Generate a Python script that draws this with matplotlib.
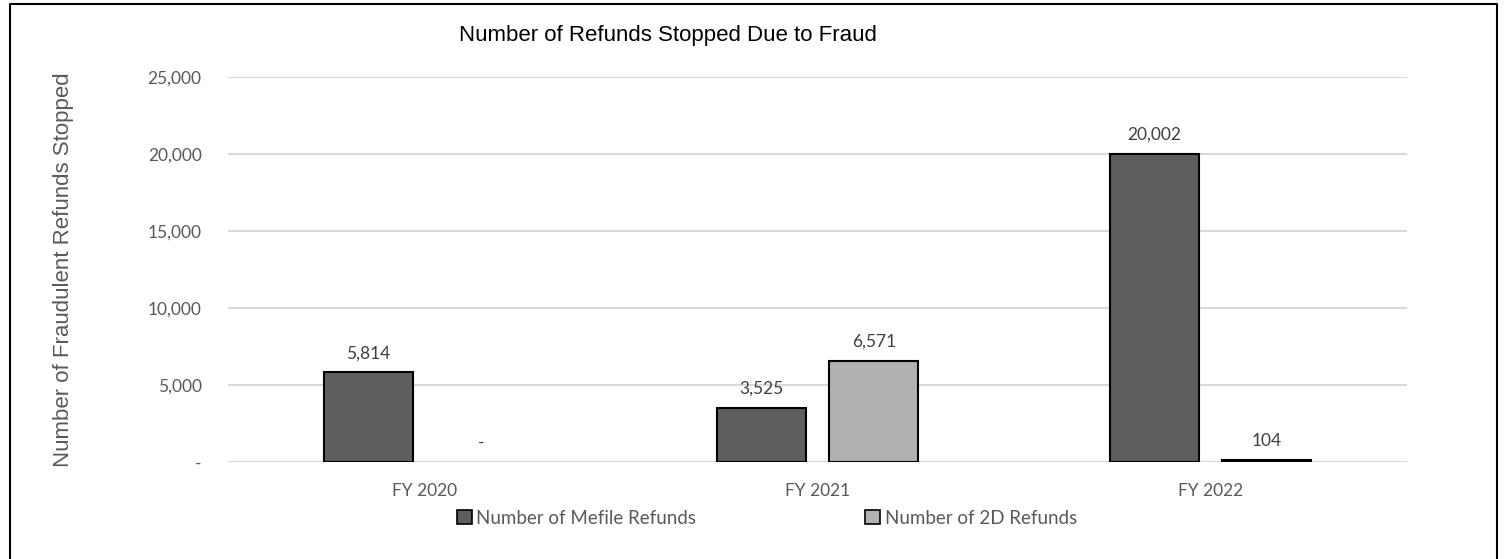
import matplotlib.pyplot as plt
from matplotlib.patches import Patch
from matplotlib.lines import Line2D
from matplotlib.ticker import FuncFormatter
import numpy as np

years = ["FY 2020", "FY 2021", "FY 2022"]
mefile_refunds = [5814, 3525, 20002]
refunds_2d = [0, 6571, 104]

DARK = "#5e5e5e"
LIGHT = "#b1b1b1"
GRID = "#d9d9d9"
TEXT = "#595959"
LABEL_FONT = ["Lato", "DejaVu Sans"]
TITLE_FONT = ["Liberation Sans", "DejaVu Sans"]


def fmt_num(v):
    return "-" if v == 0 else f"{v:,.0f}"


fig = plt.figure(figsize=(15.06, 5.59), dpi=100)
ax = fig.add_axes([0.1514, 0.1735, 0.7829, 0.6887])

x = np.arange(len(years))
offset = 0.143
width = 0.226
bars1 = ax.bar(x - offset, mefile_refunds, width, color=DARK, edgecolor="black", linewidth=1.5, zorder=3)
bars2 = ax.bar(x + offset, refunds_2d, width, color=LIGHT, edgecolor="black", linewidth=1.5, zorder=3)

for bars, vals in [(bars1, mefile_refunds), (bars2, refunds_2d)]:
    for b, v in zip(bars, vals):
        if v == 0:
            b.set_linewidth(0)  # empty bar: no outline
        ax.annotate(fmt_num(v), (b.get_x() + b.get_width() / 2, v),
                    xytext=(0, 8), textcoords="offset points",
                    ha="center", va="bottom", fontsize=12.5, color="#404040",
                    family=LABEL_FONT)

ax.set_xlim(-0.5, 2.5)
ax.set_ylim(0, 25000)
ax.set_yticks(np.arange(0, 25001, 5000))
ax.yaxis.set_major_formatter(FuncFormatter(lambda v, p: fmt_num(v)))
ax.set_xticks(x)
ax.set_xticklabels(years)
ax.tick_params(axis="both", length=0, labelcolor=TEXT, labelsize=12.5)
ax.tick_params(axis="y", pad=19)
ax.tick_params(axis="x", pad=15)
for lbl in ax.get_xticklabels() + ax.get_yticklabels():
    lbl.set_family(LABEL_FONT)

ax.grid(axis="y", color=GRID, linewidth=1.5, zorder=0)
for s in ax.spines.values():
    s.set_visible(False)

ax.set_ylabel("Number of Fraudulent Refunds Stopped", fontsize=16, color=TEXT,
              family=TITLE_FONT)
ax.yaxis.set_label_coords(-0.1305, 0.5)

fig.text(668 / 1506, 1 - 35 / 559, "Number of Refunds Stopped Due to Fraud",
         ha="center", va="center", fontsize=16, color="black", family=TITLE_FONT)

handles = [Patch(facecolor=DARK, edgecolor="black", linewidth=1.2),
           Patch(facecolor=LIGHT, edgecolor="black", linewidth=1.2)]
leg = fig.legend(handles, ["Number of Mefile Refunds", "Number of 2D Refunds"],
                 loc="center", bbox_to_anchor=(767 / 1506, 1 - 518 / 559), ncol=2,
                 frameon=False, handlelength=0.8, handleheight=0.8,
                 handletextpad=0.25, columnspacing=9.0,
                 prop={"family": LABEL_FONT, "size": 13.5})
for t in leg.get_texts():
    t.set_color(TEXT)

# outer border (left, top, right)
bx0, bx1 = 10 / 1506, 1497 / 1506
by1 = 1 - 4 / 559
fig.add_artist(Line2D([bx0, bx0, bx1, bx1], [0, by1, by1, 0],
                      transform=fig.transFigure, color="black", linewidth=1.5))

fig.savefig("out.png", dpi=100)
